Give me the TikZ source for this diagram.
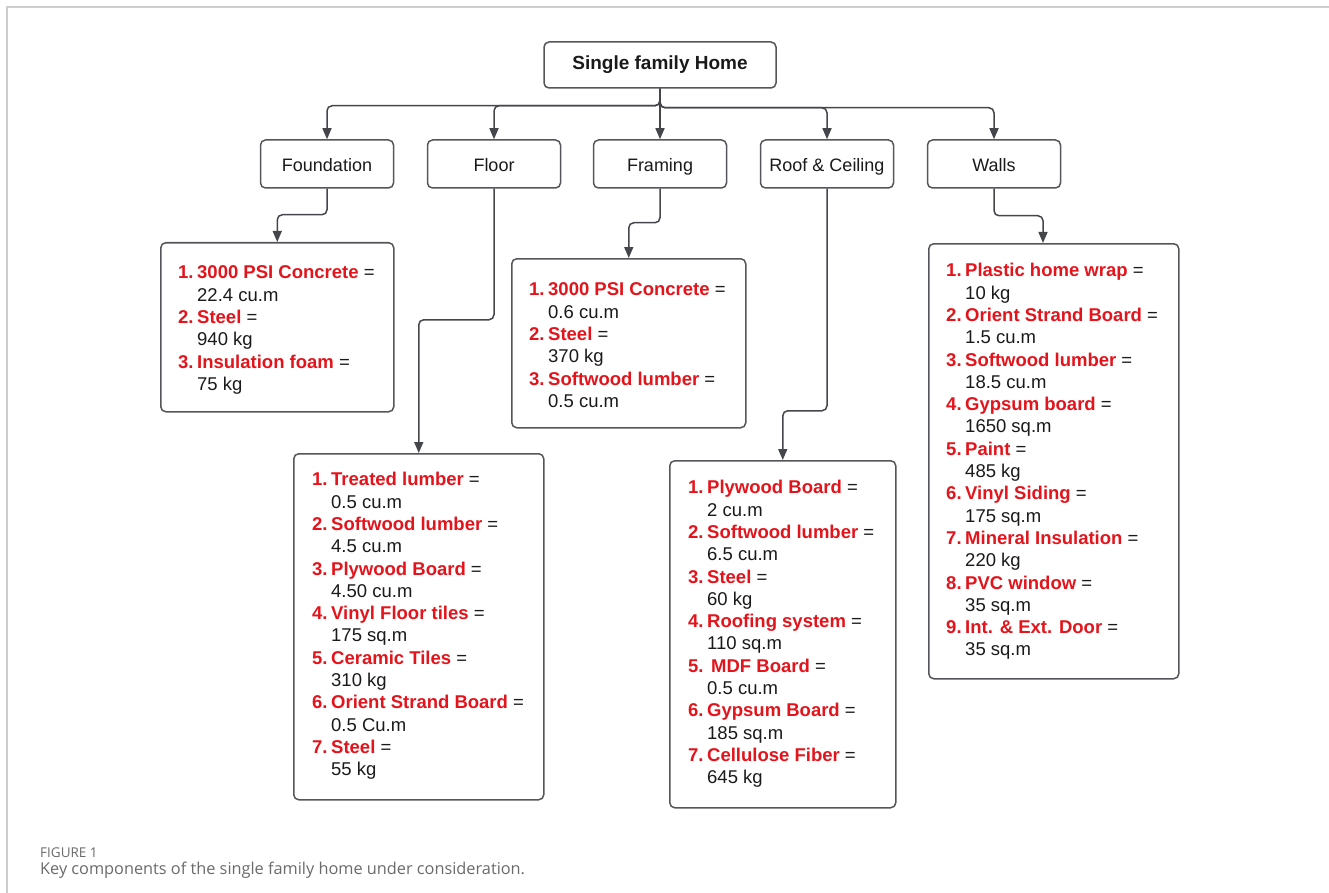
\documentclass[tikz,border=0pt]{standalone}
\usepackage{fontspec}
\setmainfont{Liberation Sans}
\newfontfamily\capfont{Open Sans}
\usetikzlibrary{arrows.meta}
\definecolor{lred}{HTML}{E3141B}
\definecolor{edgec}{HTML}{45464C}
\definecolor{boxc}{HTML}{55565A}
\definecolor{framegray}{HTML}{CDCDCD}
\definecolor{capgray}{HTML}{6A6A6A}
\definecolor{txt}{HTML}{1A1A1A}
\newcommand{\itm}[3]{\strut\makebox[19pt][l]{\textcolor{lred}{\bfseries #1}}\textcolor{lred}{\bfseries #2} =\\\strut\hspace*{19pt}#3}
\tikzset{
  lvl/.style={draw=boxc, line width=1.5pt, rounded corners=5pt, fill=white,
    minimum width=133pt, minimum height=48pt, inner sep=0pt, text=txt,
    text height=17pt, text depth=2pt,
    font=\fontsize{18}{21}\selectfont},
  dbox/.style={draw=boxc, line width=1.5pt, rounded corners=5pt, fill=white,
    inner sep=0pt, anchor=north west},
  items/.style={anchor=north west, inner sep=0pt, align=left, text=txt,
    font=\fontsize{18.5}{22.3}\selectfont},
  conn/.style={draw=edgec, line width=1.5pt, rounded corners=5pt,
    -{Triangle[width=9pt,length=11pt]}}
}
\begin{document}
\begin{tikzpicture}[x=1pt,y=-1pt]
\useasboundingbox (0,0) rectangle (1329,893);
% page frame
\draw[framegray, line width=2pt] (7,893) -- (7,7) -- (1329,7);

% top node
\node[draw=boxc, line width=1.5pt, rounded corners=5pt, minimum width=232pt,
  minimum height=46pt, inner sep=0pt, text=txt, text height=14pt, text depth=4pt,
  font=\bfseries\fontsize{19}{22}\selectfont] (top) at (660,65) {Single family Home};

% level nodes
\node[lvl] (found) at (327,164) {Foundation};
\node[lvl] (floor) at (494,164) {Floor};
\node[lvl] (framing) at (660,164) {Framing};
\node[lvl] (roof) at (827,164) {Roof \& Ceiling};
\node[lvl] (walls) at (994,164) {Walls};

% detail boxes
\node[dbox, minimum width=233pt, minimum height=169pt] (fd) at (160,242) {};
\node[dbox, minimum width=250pt, minimum height=346pt] (fl) at (293,453) {};
\node[dbox, minimum width=234pt, minimum height=169pt] (fr) at (511,258) {};
\node[dbox, minimum width=226pt, minimum height=347pt] (rf) at (669,460) {};
\node[dbox, minimum width=250pt, minimum height=435pt] (wd) at (928,243) {};
\coordinate (wdin) at (1043,243);

% detail texts
\node[items] (fdt) at (178,263) {%
\itm{1.}{3000 PSI Concrete}{22.4 cu.m}\\
\itm{2.}{Steel}{940 kg}\\
\itm{3.}{Insulation foam}{75 kg}};

\node[items] (flt) at (312,470) {%
\itm{1.}{Treated lumber}{0.5 cu.m}\\
\itm{2.}{Softwood lumber}{4.5 cu.m}\\
\itm{3.}{Plywood Board}{4.50 cu.m}\\
\itm{4.}{Vinyl Floor tiles}{175 sq.m}\\
\itm{5.}{Ceramic Tiles}{310 kg}\\
\itm{6.}{Orient Strand Board}{0.5 Cu.m}\\
\itm{7.}{Steel}{55 kg}};

\node[items] (frt) at (529,280) {%
\itm{1.}{3000 PSI Concrete}{0.6 cu.m}\\
\itm{2.}{Steel}{370 kg}\\
\itm{3.}{Softwood lumber}{0.5 cu.m}};

\node[items] (rft) at (688,478) {%
\itm{1.}{Plywood Board}{2 cu.m}\\
\itm{2.}{Softwood lumber}{6.5 cu.m}\\
\itm{3.}{Steel}{60 kg}\\
\itm{4.}{Roofing system}{110 sq.m}\\
\itm{5.}{\hspace{4pt}MDF Board}{0.5 cu.m}\\
\itm{6.}{Gypsum Board}{185 sq.m}\\
\itm{7.}{Cellulose Fiber}{645 kg}};

\node[items] (wdt) at (946,261) {%
\itm{1.}{Plastic home wrap}{10 kg}\\
\itm{2.}{Orient Strand Board}{1.5 cu.m}\\
\itm{3.}{Softwood lumber}{18.5 cu.m}\\
\itm{4.}{Gypsum board}{1650 sq.m}\\
\itm{5.}{Paint}{485 kg}\\
\itm{6.}{Vinyl Siding}{175 sq.m}\\
\itm{7.}{Mineral Insulation}{220 kg}\\
\itm{8.}{PVC window}{35 sq.m}\\
\itm{9.}{Int. \& Ext. Door}{35 sq.m}};

% connectors from top
\draw[conn] (top.south) -- ++(0,17) -| (found.north);
\draw[conn] (top.south) -- ++(0,17) -| (floor.north);
\draw[conn] (top.south) -- (framing.north);
\draw[conn] (top.south) -- ++(0,19) -| (roof.north);
\draw[conn] (top.south) -- ++(0,19) -| (walls.north);

% connectors to detail boxes
\draw[conn] (found.south) -- ++(0,26) -| (fd.north);
\draw[conn] (floor.south) -- ++(0,131) -| (fl.north);
\draw[conn] (framing.south) -- ++(0,34) -| (fr.north);
\draw[conn] (roof.south) -- ++(0,222) -| (rf.north);
\draw[conn] (walls.south) -- ++(0,27) -| (wdin);

% caption
\node[anchor=base west, inner sep=0pt, text=capgray,
  font=\capfont\fontsize{13.5}{15}\selectfont] (figlbl) at (40,857) {FIGURE 1};
\node[anchor=base west, inner sep=0pt, text=capgray,
  font=\capfont\fontsize{16.3}{19}\selectfont] (cap) at (40,874)
  {Key components of the single family home under consideration.};
\end{tikzpicture}
\end{document}
